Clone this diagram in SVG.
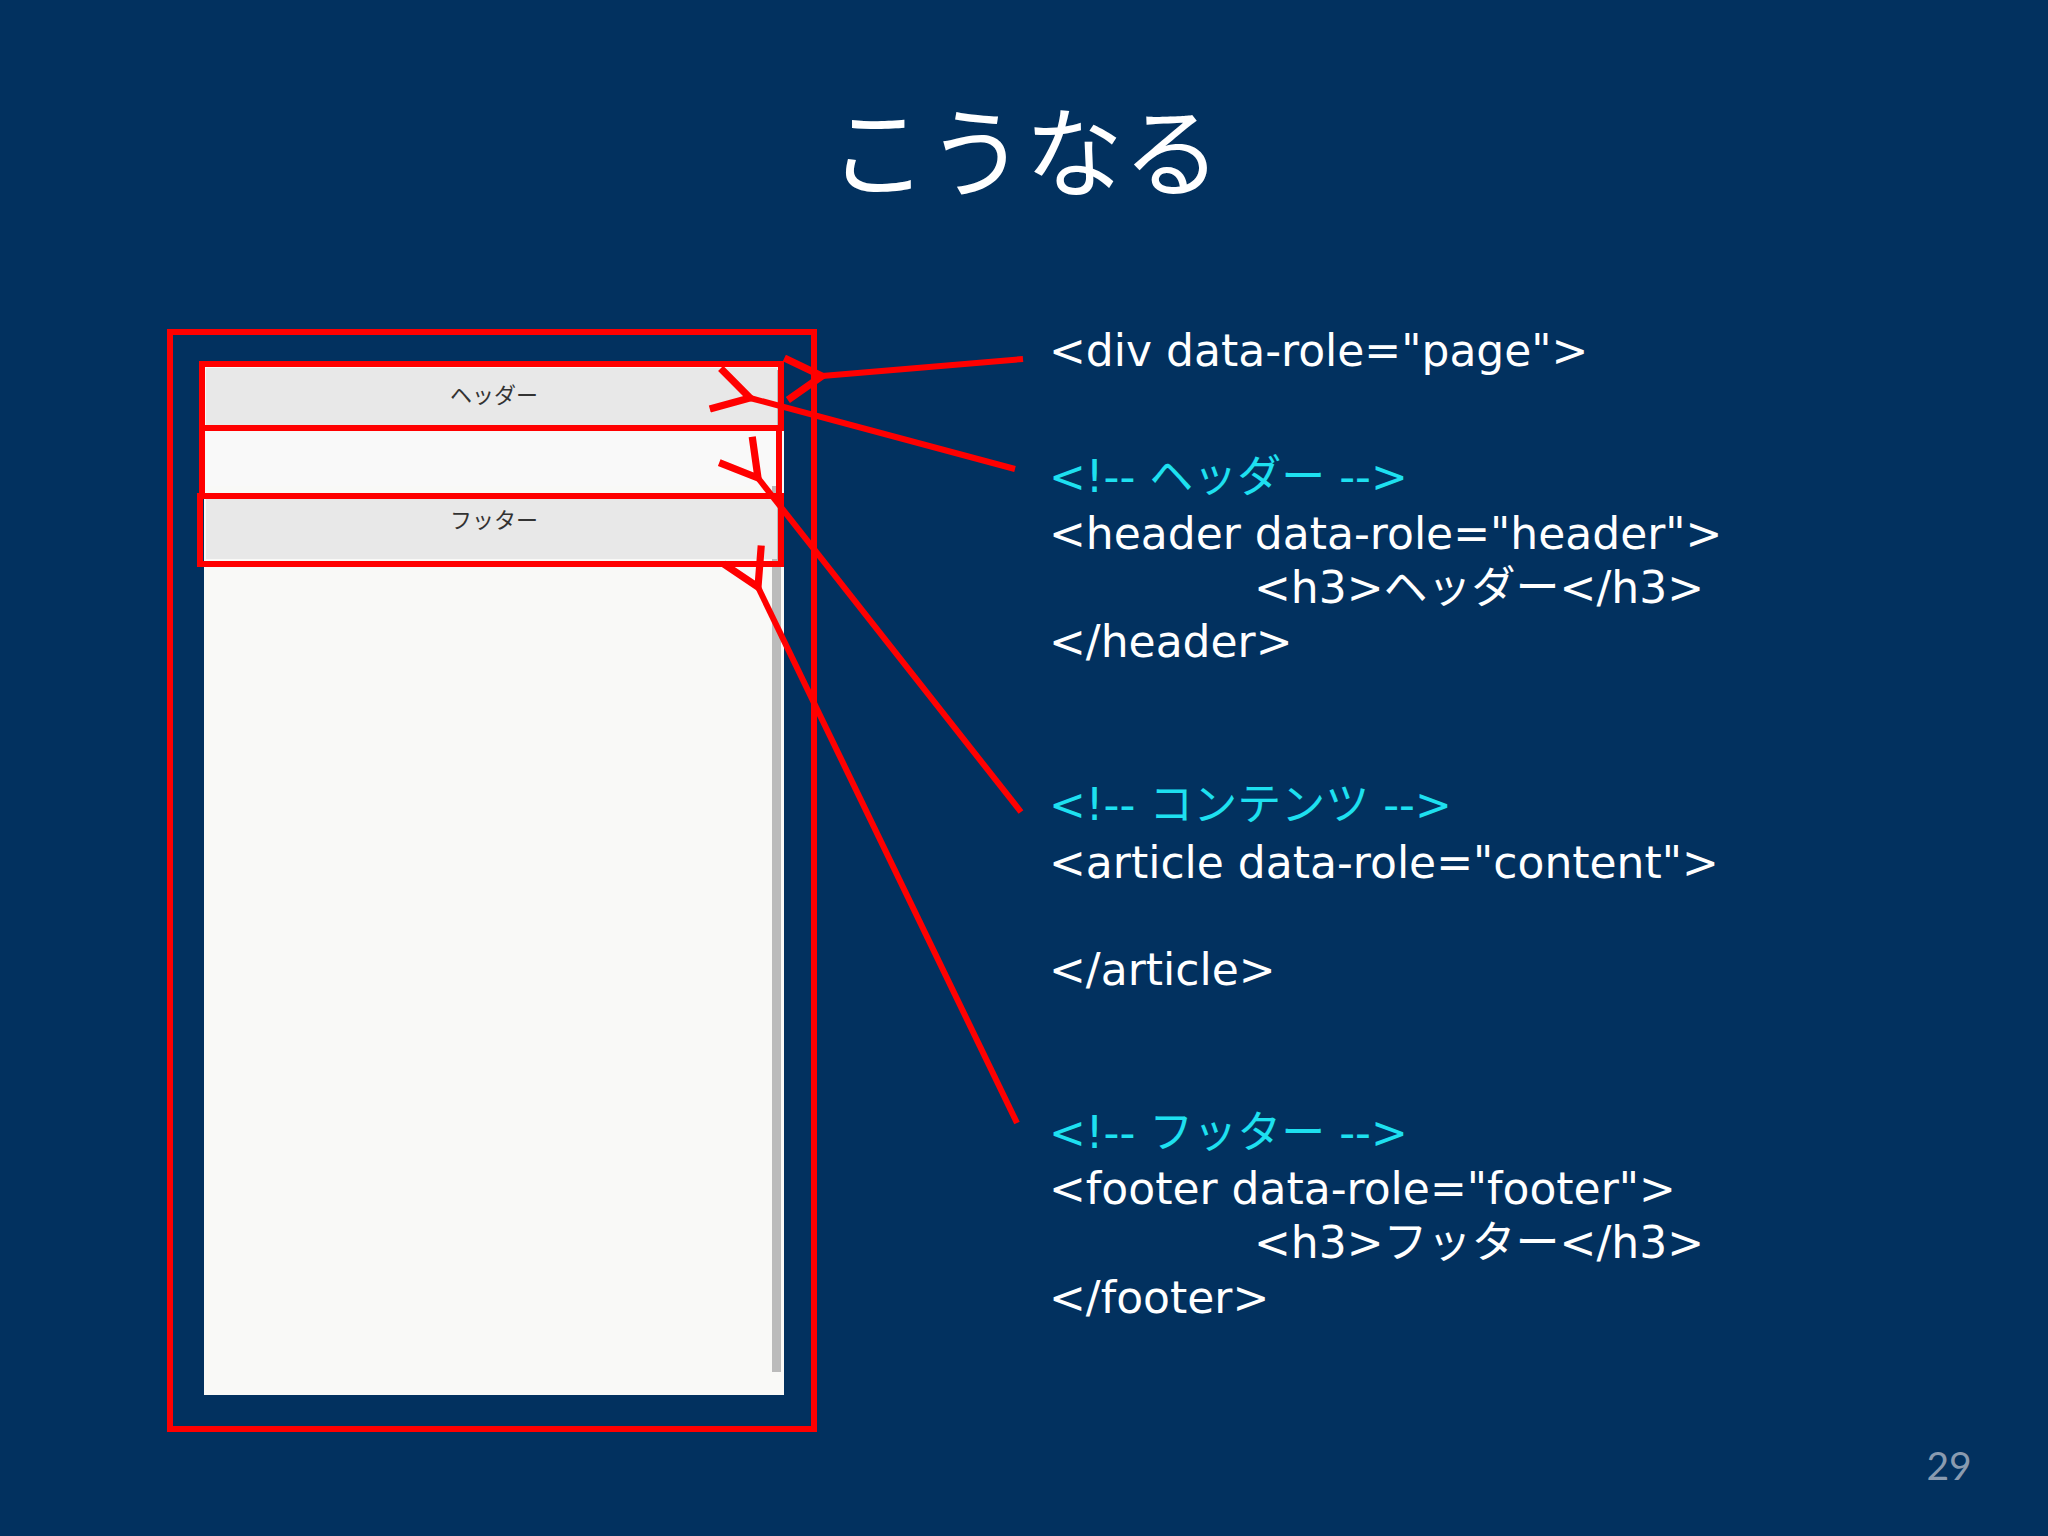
<svg xmlns="http://www.w3.org/2000/svg" width="2048" height="1536" viewBox="0 0 2048 1536">
<defs>
<style>
.t{font-family:"Verdana","DejaVu Sans","Noto Sans CJK JP",sans-serif;font-size:44px;fill:#fff}
.c{fill:#1ee0f0}
.r{fill:none;stroke:#f00;stroke-width:6}
.a{fill:none;stroke:#f00;stroke-width:6}
.s{font-family:"Noto Sans CJK JP",sans-serif;font-size:22px;fill:#333;text-anchor:middle}
</style>
<marker id="ah" markerWidth="8" markerHeight="8" refX="1" refY="4" orient="auto-start-reverse" markerUnits="strokeWidth">
<path d="M7,0.5 L1,4 L7,7.5" fill="none" stroke="#f00" stroke-width="1.2"/>
</marker>
</defs>
<rect width="2048" height="1536" fill="#02315f"/>
<text x="1025" y="189" font-family="Noto Sans CJK JP,sans-serif" font-size="98" fill="#fff" text-anchor="middle">こうなる</text>
<g id="mock">
<rect x="204" y="366" width="580" height="1029" fill="#f9f9f7"/>
<rect x="772" y="370" width="9" height="1002" fill="#bbb"/>
<g id="header"><rect x="206" y="368" width="571" height="58" fill="#e8e8e8"/><text class="s" x="494" y="403">ヘッダー</text></g>
<g id="content"><rect x="206" y="428" width="571" height="58" fill="#f9f9f9"/></g>
<g id="footer"><rect x="206" y="494" width="571" height="65" fill="#e8e8e8"/><text class="s" x="494" y="528">フッター</text></g>
</g>
<g id="highlights">
<rect class="r" x="170" y="332" width="644" height="1097"/>
<rect class="r" x="202" y="364" width="579" height="64"/>
<rect class="r" x="202" y="428" width="577" height="68"/>
<rect class="r" x="200" y="496" width="581" height="68"/>
</g>
<g id="connectors">
<line class="a" x1="1023" y1="359" x2="822" y2="376" marker-end="url(#ah)"/>
<line class="a" x1="1015" y1="469" x2="750" y2="398" marker-end="url(#ah)"/>
<line class="a" x1="1021" y1="812" x2="758" y2="478" marker-end="url(#ah)"/>
<line class="a" x1="1017" y1="1123" x2="758" y2="587" marker-end="url(#ah)"/>
</g>
<g id="code">
<text class="t" x="1049" y="366">&lt;div data-role="page"&gt;</text>
<text class="t c" x="1049" y="492">&lt;!-- ヘッダー --&gt;</text>
<text class="t" x="1049" y="549">&lt;header data-role="header"&gt;</text>
<text class="t" x="1254" y="603">&lt;h3&gt;ヘッダー&lt;/h3&gt;</text>
<text class="t" x="1049" y="657">&lt;/header&gt;</text>
<text class="t c" x="1049" y="820">&lt;!-- コンテンツ --&gt;</text>
<text class="t" x="1049" y="878">&lt;article data-role="content"&gt;</text>
<text class="t" x="1049" y="985">&lt;/article&gt;</text>
<text class="t c" x="1049" y="1148">&lt;!-- フッター --&gt;</text>
<text class="t" x="1049" y="1204">&lt;footer data-role="footer"&gt;</text>
<text class="t" x="1254" y="1258">&lt;h3&gt;フッター&lt;/h3&gt;</text>
<text class="t" x="1049" y="1313">&lt;/footer&gt;</text>
</g>
<text x="1949" y="1480" font-family="Lato,sans-serif" font-size="39" fill="#8a9bb0" text-anchor="middle">29</text>
</svg>
